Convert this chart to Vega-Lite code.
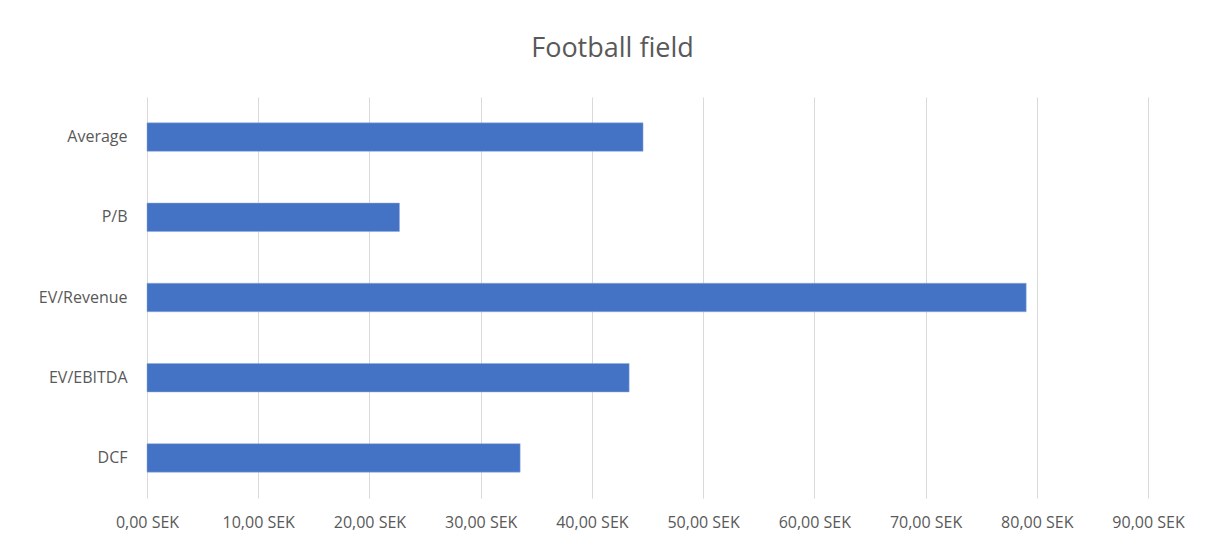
{
  "$schema": "https://vega.github.io/schema/vega-lite/v6.json",
  "width": 1001,
  "height": 401,
  "autosize": "none",
  "padding": {"left": 147, "top": 97, "right": 57, "bottom": 49},
  "background": "white",
  "title": {
    "text": "Football field",
    "fontSize": 27,
    "font": "Open Sans",
    "fontWeight": "normal",
    "color": "#595959",
    "anchor": "middle",
    "offset": 34,
    "dx": -35
  },
  "data": {
    "values": [
      {"method": "Average", "value": 44.6},
      {"method": "P/B", "value": 22.7},
      {"method": "EV/Revenue", "value": 79.05},
      {"method": "EV/EBITDA", "value": 43.35},
      {"method": "DCF", "value": 33.55}
    ]
  },
  "mark": {"type": "bar", "color": "#4472C4", "stroke": "#8faadc", "strokeWidth": 0.5},
  "encoding": {
    "y": {
      "field": "method",
      "type": "nominal",
      "sort": null,
      "title": null,
      "scale": {"paddingInner": 0.645, "paddingOuter": 0.3225},
      "axis": {
        "domain": false,
        "ticks": false,
        "grid": false,
        "labelPadding": 20,
        "labelFont": "Open Sans",
        "labelFontSize": 16,
        "labelColor": "#595959"
      }
    },
    "x": {
      "field": "value",
      "type": "quantitative",
      "title": null,
      "scale": {"domain": [0, 90], "nice": false},
      "axis": {
        "values": [0, 10, 20, 30, 40, 50, 60, 70, 80, 90],
        "labelExpr": "replace(format(datum.value, '.2f'), '.', ',') + ' SEK'",
        "domain": false,
        "ticks": false,
        "grid": true,
        "gridColor": "#d9d9d9",
        "gridWidth": 1,
        "labelPadding": 16,
        "labelFont": "Open Sans",
        "labelFontSize": 16,
        "labelColor": "#595959",
        "labelFlush": false
      }
    }
  },
  "config": {"view": {"stroke": null}}
}
